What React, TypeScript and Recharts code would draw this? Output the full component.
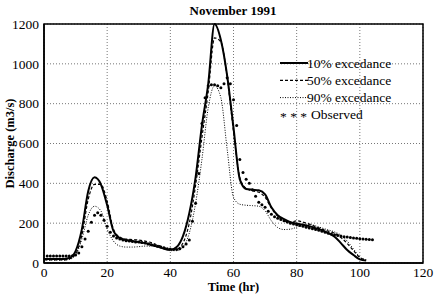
import React from 'react';
import {
  ComposedChart, Line, Scatter, XAxis, YAxis, CartesianGrid, Legend, ReferenceArea,
} from 'recharts';

// model runs, every 2 hours
const hours = [
  0, 2, 4, 6, 8, 10, 12, 14, 16, 18, 20, 22, 24, 26, 28, 30, 32, 34, 36, 38, 40, 42, 44, 46, 48, 50,
  52, 54, 56, 58, 60, 62, 64, 66, 68, 70, 72, 74, 76, 78, 80, 82, 84, 86, 88, 90, 92, 94, 96, 98, 100, 102,
];
const exc10 = [
  20, 20, 20, 20, 25, 60, 170, 360, 430, 395, 290, 160, 125, 115, 110, 105, 100, 92, 82, 72, 66, 80, 135, 250, 430, 690,
  900, 1200, 1120, 940, 680, 420, 372, 368, 365, 345, 280, 240, 220, 205, 198, 192, 185, 175, 165, 150, 132, 100, 65, 40, 18, 12,
];
const exc50 = [
  15, 15, 15, 15, 20, 45, 140, 320, 395, 395, 310, 170, 130, 120, 118, 115, 110, 102, 90, 78, 68, 70, 100, 200, 390, 630,
  860, 1130, 1110, 930, 660, 430, 375, 362, 355, 330, 275, 235, 212, 205, 212, 205, 195, 182, 170, 160, 150, 128, 98, 62, 28, 15,
];
const exc90 = [
  15, 15, 15, 15, 18, 40, 120, 240, 285, 262, 170, 110, 85, 80, 80, 82, 85, 85, 80, 72, 62, 62, 80, 150, 300, 520,
  780, 890, 830, 570, 330, 295, 290, 288, 285, 262, 212, 178, 168, 170, 180, 195, 195, 186, 176, 166, 156, 140, 110, 70, 30, 15,
];

// observed, hourly
const obsHours = [
  1, 2, 3, 4, 5, 6, 7, 8, 9, 10, 11, 12, 13, 14, 15, 16, 17, 18, 19, 20, 21, 22, 23, 24, 25, 26, 27, 28, 29, 30,
  31, 32, 33, 34, 35, 36, 37, 38, 39, 40, 41, 42, 43, 44, 45, 46, 47, 48, 49, 50, 51, 52, 53, 54, 55, 56, 57, 58, 59, 60,
  61, 62, 63, 64, 65, 66, 67, 68, 69, 70, 71, 72, 73, 74, 75, 76, 77, 78, 79, 80, 81, 82, 83, 84, 85, 86, 87, 88, 89, 90,
  91, 92, 93, 94, 95, 96, 97, 98, 99, 100, 101, 102, 103, 104,
];
const observed = [
  35, 35, 35, 35, 35, 35, 35, 35, 36, 40, 50, 82, 120, 160, 205, 240, 252, 240, 215, 185, 155, 135, 125, 120, 115, 112, 110, 108, 106, 105,
  103, 100, 96, 92, 88, 84, 80, 76, 72, 70, 68, 68, 72, 82, 95, 115, 210, 300, 450, 700, 830, 890, 895, 895, 890, 880, 900, 930, 900, 820,
  690, 520, 455, 420, 400, 368, 335, 305, 292, 280, 260, 245, 232, 225, 218, 212, 206, 200, 196, 192, 188, 184, 180, 176, 172, 168, 164, 160, 155, 150,
  146, 142, 138, 135, 132, 130, 128, 126, 124, 122, 120, 119, 118, 117,
];

const xTicks = [0, 20, 40, 60, 80, 100, 120];
const yTicks = [0, 200, 400, 600, 800, 1000, 1200];

const legendItems = [
  { label: '10% excedance', dash: '', width: 2 },
  { label: '50% excedance', dash: '3 2', width: 1.2 },
  { label: '90% excedance', dash: '1 1.5', width: 1 },
];

const toRows = (xs: number[], ys: number[]) => xs.map((t, i) => ({ t, q: ys[i] }));

const font = 'Liberation Serif, Times New Roman, serif';

const LegendBox = () => (
  <svg width={140} height={70} style={{ fontFamily: font, fontSize: 13.5 }}>
    {legendItems.map((it, i) => (
      <g key={it.label}>
        <line x1={2} x2={30} y1={8 + i * 17.3} y2={8 + i * 17.3} stroke="#000" strokeWidth={it.width} strokeDasharray={it.dash} />
        <text x={29} y={12.5 + i * 17.3} fill="#000" fontFamily={font}>{it.label}</text>
      </g>
    ))}
    <text x={2} y={66} fill="#000" fontFamily={font}>* * *</text>
    <text x={33} y={64} fill="#000" fontFamily={font}>Observed</text>
  </svg>
);

const Dot = (props: any) => <circle cx={props.cx} cy={props.cy} r={1.5} fill="#000" />;

export default function App() {
  return (
    <div style={{ position: 'absolute', left: 0, top: 0, width: 436, height: 294, background: '#fff', fontFamily: font }}>
      <div style={{ position: 'absolute', top: 3, left: 0, width: 466, textAlign: 'center', fontSize: 13, fontWeight: 'bold', color: '#000', fontFamily: font }}>
        November 1991
      </div>
      <ComposedChart width={436} height={294} margin={{ top: 24, right: 13, bottom: 0, left: 0 }} style={{ fontFamily: font }}>
        <CartesianGrid stroke="#777" strokeDasharray="1 2" />
        <XAxis
          type="number"
          dataKey="t"
          domain={[0, 120]}
          ticks={xTicks}
          tickLine={false}
          tickSize={2}
          height={31}
          axisLine={{ stroke: '#000', strokeWidth: 1.5 }}
          tick={{ fill: '#000', fontSize: 13.5, fontFamily: font }}
          label={{ value: 'Time (hr)', position: 'insideBottom', offset: 3, fill: '#000', fontSize: 12.5, fontWeight: 'bold', fontFamily: font }}
        />
        <YAxis
          type="number"
          domain={[0, 1200]}
          ticks={yTicks}
          width={44}
          tickLine={false}
          tickSize={3}
          axisLine={{ stroke: '#000', strokeWidth: 1.5 }}
          tick={{ fill: '#000', fontSize: 13.5, fontFamily: font }}
          label={{ value: 'Discharge (m3/s)', angle: -90, position: 'insideLeft', offset: 10, fill: '#000', fontSize: 12.5, fontWeight: 'bold', fontFamily: font, style: { textAnchor: 'middle' } }}
        />
        <ReferenceArea x1={0} x2={120} y1={0} y2={1200} fill="none" stroke="#000" strokeWidth={1.5} />
        <Line data={toRows(hours, exc10)} dataKey="q" type="monotone" stroke="#000" strokeWidth={2} dot={false} isAnimationActive={false} />
        <Line data={toRows(hours, exc50)} dataKey="q" type="monotone" stroke="#000" strokeWidth={1.2} strokeDasharray="3 2" dot={false} isAnimationActive={false} />
        <Line data={toRows(hours, exc90)} dataKey="q" type="monotone" stroke="#000" strokeWidth={1} strokeDasharray="1 1.5" dot={false} isAnimationActive={false} />
        <Scatter data={toRows(obsHours, observed)} dataKey="q" shape={<Dot />} isAnimationActive={false} />
        <Legend
          layout="vertical"
          align="center"
          verticalAlign="middle"
          content={<LegendBox />}
          wrapperStyle={{ top: 55, left: 278, width: 140, height: 70 }}
        />
      </ComposedChart>
    </div>
  );
}
